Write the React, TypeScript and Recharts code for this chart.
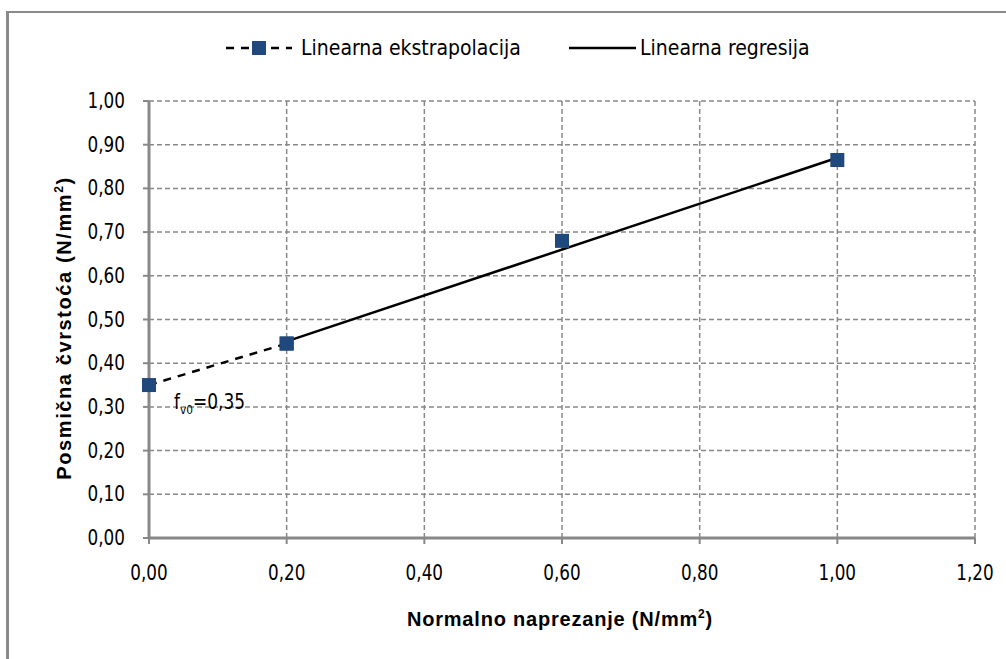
import { CartesianGrid, ComposedChart, Scatter, XAxis, YAxis } from "recharts";

// Measured / read values
const extrapolationX = [0, 0.2];
const extrapolationY = [0.35, 0.445];
const measuredX = [0.2, 0.6, 1.0];
const measuredY = [0.445, 0.68, 0.865];
const regressionX = [0.2, 1.0];
const regressionY = [0.45, 0.87];

const xTicks = [0, 0.2, 0.4, 0.6, 0.8, 1.0, 1.2];
const yTicks = [0, 0.1, 0.2, 0.3, 0.4, 0.5, 0.6, 0.7, 0.8, 0.9, 1.0];

const legendLabels = ["Linearna ekstrapolacija", "Linearna regresija"];

const NARROW = '"Liberation Sans Narrow", "Arial Narrow", "DejaVu Sans Condensed", sans-serif';
const BOLD = '"Liberation Sans", Arial, sans-serif';
const MARKER = "#1F497D";
const GRID = "#888888";

const toPoints = (xs: number[], ys: number[]) => xs.map((x, i) => ({ x, y: ys[i] }));

const extrapolation = toPoints(extrapolationX, extrapolationY);
const measured = toPoints(measuredX, measuredY);
const regression = toPoints(regressionX, regressionY);

const fmt = (v: number) => v.toFixed(2).replace(".", ",");

const Square = (props: any) => {
  const { cx, cy } = props;
  if (cx == null || cy == null) return <g />;
  return <rect x={cx - 7} y={cy - 7} width={14} height={14} fill={MARKER} />;
};

const Nothing = () => <g />;

// narrow-looking tick text (squeezed horizontally)
const NarrowTick = (props: any) => {
  const { x, y, payload, textAnchor, axis } = props;
  const dy = axis === "x" ? 16 : 7;
  return (
    <text
      transform={`translate(${x},${y + dy}) scale(0.85,1)`}
      textAnchor={textAnchor}
      fill="#000"
      fontSize={22}
      fontFamily={NARROW}
    >
      {fmt(payload.value)}
    </text>
  );
};

export default function App() {
  return (
    <div style={{ position: "absolute", left: 0, top: 0, width: 1006, height: 659, background: "#fff", overflow: "hidden" }}>
      <div
        style={{
          position: "absolute",
          left: 6,
          top: 11,
          width: 1100,
          height: 800,
          borderTop: "2px solid #8a8a8a",
          borderLeft: "3px solid #8a8a8a",
        }}
      />
      <ComposedChart width={1006} height={659} margin={{ top: 101, right: 31, bottom: 71, left: 89 }} style={{ position: "absolute", left: 0, top: 0 }}>
        <CartesianGrid stroke={GRID} strokeDasharray="5 3" strokeWidth={1.5} />
        <XAxis
          type="number"
          dataKey="x"
          domain={[0, 1.2]}
          ticks={xTicks}
          height={50}
          stroke={GRID}
          axisLine={{ stroke: GRID, strokeWidth: 3 }}
          tickLine={{ stroke: GRID, strokeWidth: 2 }}
          tickSize={6}
          tickMargin={20}
          tick={(p: any) => <NarrowTick {...p} axis="x" />}
        />
        <YAxis
          type="number"
          dataKey="y"
          domain={[0, 1]}
          ticks={yTicks}
          width={60}
          stroke={GRID}
          axisLine={{ stroke: GRID, strokeWidth: 3 }}
          tickLine={{ stroke: GRID, strokeWidth: 2 }}
          tickSize={6}
          tickMargin={18}
          tick={(p: any) => <NarrowTick {...p} axis="y" />}
        />
        <Scatter
          data={regression}
          shape={Nothing}
          line={{ stroke: "#000", strokeWidth: 2.5 }}
          isAnimationActive={false}
        />
        <Scatter
          data={extrapolation}
          shape={Square}
          line={{ stroke: "#000", strokeWidth: 2.5, strokeDasharray: "8 7" }}
          isAnimationActive={false}
        />
        <Scatter data={measured} shape={Square} isAnimationActive={false} />
      </ComposedChart>

      {/* legend */}
      <div style={{ position: "absolute", left: 226, top: 33, height: 30, display: "flex", alignItems: "center", fontFamily: NARROW, fontSize: 21, color: "#000" }}>
        <svg width={66} height={20}>
          <line x1={0} y1={10} x2={66} y2={10} stroke="#000" strokeWidth={2.5} strokeDasharray="8 7" />
          <rect x={26} y={3} width={14} height={14} fill={MARKER} />
        </svg>
        <span style={{ marginLeft: 9 }}>{legendLabels[0]}</span>
      </div>
      <div style={{ position: "absolute", left: 569, top: 33, height: 30, display: "flex", alignItems: "center", fontFamily: NARROW, fontSize: 21, color: "#000" }}>
        <svg width={67} height={20}>
          <line x1={0} y1={10} x2={67} y2={10} stroke="#000" strokeWidth={2.5} />
        </svg>
        <span style={{ marginLeft: 4 }}>{legendLabels[1]}</span>
      </div>

      {/* annotation */}
      <div
        style={{
          position: "absolute",
          left: 174,
          top: 390,
          fontFamily: NARROW,
          fontSize: 21,
          color: "#000",
          whiteSpace: "nowrap",
          transform: "scaleX(0.9)",
          transformOrigin: "left top",
        }}
      >
        f<sub style={{ fontSize: 13 }}>v0</sub>=0,35
      </div>

      {/* axis titles */}
      <div
        style={{
          position: "absolute",
          left: 560,
          top: 619,
          transform: "translate(-50%, -50%)",
          fontFamily: BOLD,
          fontWeight: "bold",
          fontSize: 20,
          letterSpacing: 0.8,
          whiteSpace: "nowrap",
          color: "#000",
        }}
      >
        Normalno naprezanje (N/mm<sup style={{ fontSize: 12 }}>2</sup>)
      </div>
      <div
        style={{
          position: "absolute",
          left: 64,
          top: 328,
          transform: "translate(-50%, -50%) rotate(-90deg)",
          fontFamily: BOLD,
          fontWeight: "bold",
          fontSize: 20,
          letterSpacing: 1.6,
          whiteSpace: "nowrap",
          color: "#000",
        }}
      >
        Posmična čvrstoća (N/mm<sup style={{ fontSize: 12 }}>2</sup>)
      </div>
    </div>
  );
}
